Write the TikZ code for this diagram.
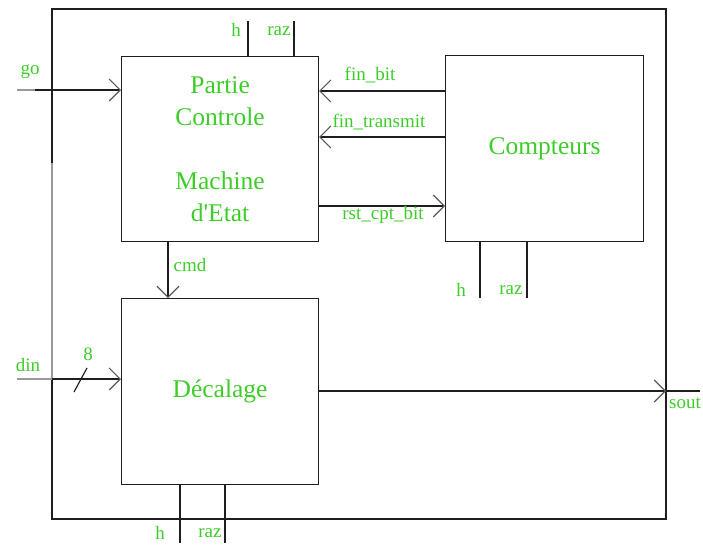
\documentclass[tikz,border=0pt]{standalone}
\usepackage{fontspec}
\setmainfont{Liberation Serif}
\usetikzlibrary{arrows.meta,calc}
\definecolor{lbl}{RGB}{60,205,40}
\definecolor{wire}{RGB}{30,30,30}
\tikzset{
  wireline/.style={draw=wire,line width=1.15pt},
  grayline/.style={draw=black!40,line width=1.15pt},
  arr/.style={wireline,-{Straight Barb[length=11pt,width=22pt,line width=1.1pt,color=black!65]}},
  blockbox/.style={draw=wire,line width=1.15pt,rectangle,inner sep=0pt,anchor=north west,
    text=lbl,align=center,font=\fontsize{25.5}{32}\selectfont},
  smalllbl/.style={text=lbl,inner sep=0pt,font=\fontsize{19}{22}\selectfont},
}
\begin{document}
\begin{tikzpicture}[x=1pt,y=-1pt]
\path[use as bounding box] (0,0) rectangle (703,544);
% outer frame
\coordinate (otl) at (52,9);
\coordinate (otr) at (666,9);
\coordinate (obr) at (666,519);
\coordinate (obl) at (52,519);
\coordinate (ogray1) at (52,163);
\coordinate (ogray2) at (52,379);
\draw[wireline] (ogray1) -- (otl) -- (otr) -- (obr) -- (obl) -- (ogray2);
\draw[grayline] (ogray1) -- (ogray2);
% blocks
\node[blockbox,minimum width=197pt,minimum height=185pt] (pc) at (121,56)
  {Partie\\Controle\\[32pt]Machine\\d\textquotesingle Etat};
\node[blockbox,minimum width=198pt,minimum height=186pt] (comp) at (445,55) {Compteurs};
\node[blockbox,minimum width=197pt,minimum height=186pt] (dec) at (121,298) {Décalage};
% inputs
\coordinate (goin) at (17,90);
\coordinate (gogray) at (35,90);
\coordinate (dinin) at (17,379);
\coordinate (dingray) at (52,379);
\draw[grayline] (goin) -- (gogray);
\draw[arr] (gogray) -- (pc.west |- goin);
\draw[grayline] (dinin) -- (dingray);
\draw[arr] (dingray) -- (dec.west |- dinin);
\coordinate (sl1) at (74,392);
\coordinate (sl2) at (87,368);
\draw[wireline] (sl1) -- (sl2);
\node[smalllbl] (golbl) at (30,72) {go};
\node[smalllbl] (dinlbl) at (28,365) {din};
\node[smalllbl] (eight) at (88,354) {8};
% top h/raz of partie controle
\coordinate (pch) at (248,21);
\coordinate (pcr) at (294,21);
\draw[wireline] (pch) -- (pc.north -| pch);
\draw[wireline] (pcr) -- (pc.north -| pcr);
\node[smalllbl] (pchl) at (236,30) {h};
\node[smalllbl] (pcrl) at (279,31) {raz};
% signals between blocks
\coordinate (yfb) at (0,91);
\coordinate (yft) at (0,137);
\coordinate (yrst) at (0,206);
\draw[arr] (comp.west |- yfb) -- (pc.east |- yfb);
\draw[arr] (comp.west |- yft) -- (pc.east |- yft);
\draw[arr] (pc.east |- yrst) -- (comp.west |- yrst);
\node[smalllbl] (fbl) at (370,75) {fin\_bit};
\node[smalllbl] (ftl) at (379,122) {fin\_transmit};
\node[smalllbl] (rstl) at (383,215) {rst\_cpt\_bit};
% compteurs h/raz
\coordinate (ch) at (480,298);
\coordinate (cr) at (527,298);
\draw[wireline] (comp.south -| ch) -- (ch);
\draw[wireline] (comp.south -| cr) -- (cr);
\node[smalllbl] (chl) at (461,290) {h};
\node[smalllbl] (crl) at (511,290) {raz};
% cmd
\coordinate (xcmd) at (168,0);
\draw[arr] (pc.south -| xcmd) -- (dec.north -| xcmd);
\node[smalllbl] (cmdl) at (190,265) {cmd};
% decalage h/raz
\coordinate (dh) at (180,543);
\coordinate (dr) at (225,543);
\draw[wireline] (dec.south -| dh) -- (dh);
\draw[wireline] (dec.south -| dr) -- (dr);
\node[smalllbl] (dhl) at (160,533) {h};
\node[smalllbl] (drl) at (210,533) {raz};
% sout
\coordinate (soutmid) at (666,391);
\coordinate (soutend) at (700,391);
\draw[arr] (dec.east |- soutmid) -- (soutmid);
\draw[wireline] (soutmid) -- (soutend);
\node[smalllbl] (soutl) at (685,403) {sout};
\end{tikzpicture}
\end{document}
